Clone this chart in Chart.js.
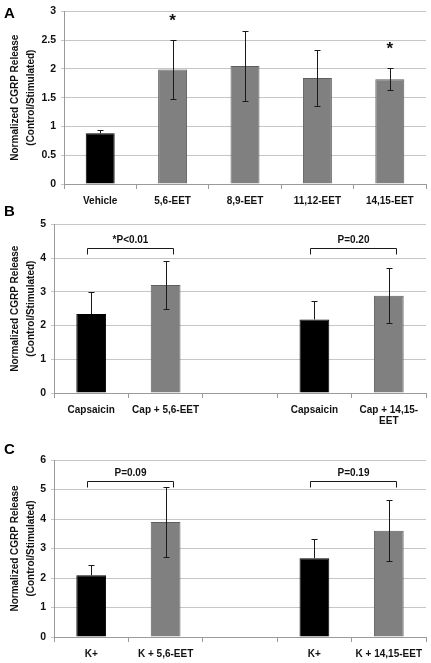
<!DOCTYPE html>
<html>
<head>
<meta charset="utf-8">
<script src="https://cdn.jsdelivr.net/npm/chart.js@4.4.1/dist/chart.umd.min.js"></script>
<style>
  html, body { margin: 0; padding: 0; background: #fff; }
  body { width: 431px; height: 663px; position: relative; overflow: hidden; font-family: 'Liberation Sans', Arial, sans-serif; }
  .panel { position: absolute; left: 0; width: 431px; }
  .letter { position: absolute; left: 4px; font-weight: bold; font-size: 15px; line-height: 17px; z-index: 2; }
</style>
</head>
<body>
<div class="letter" style="top:4px">A</div>
<div class="letter" style="top:202px">B</div>
<div class="letter" style="top:440px">C</div>
<div class="panel" style="top:0;height:212px"><canvas id="chartA"></canvas></div>
<div class="panel" style="top:213px;height:215px"><canvas id="chartB"></canvas></div>
<div class="panel" style="top:440px;height:223px"><canvas id="chartC"></canvas></div>
<script>
// Panel A - EET regioisomers vs vehicle
const labelsA = ['Vehicle', '5,6-EET', '8,9-EET', '11,12-EET', '14,15-EET'];
const meansA = [0.88, 1.99, 2.05, 1.84, 1.82];
const errsA = [0.06, 0.51, 0.60, 0.48, 0.19];
const controlIdxA = [0];
const starsA = ['', '*', '', '', '*'];

// Panel B - capsaicin stimulated
const labelsB = ['Capsaicin', 'Cap + 5,6-EET', '', 'Capsaicin', ['Cap + 14,15-', 'EET']];
const meansB = [2.34, 3.20, null, 2.18, 2.88];
const errsB = [0.64, 0.70, null, 0.55, 0.81];
const controlIdxB = [0, 3];
const pairsB = [[0, 1], [3, 4]];
const pLabelsB = ['*P<0.01', 'P=0.20'];

// Panel C - K+ stimulated
const labelsC = ['K+', 'K + 5,6-EET', '', 'K+', 'K + 14,15-EET'];
const meansC = [2.09, 3.90, null, 2.67, 3.60];
const errsC = [0.35, 1.20, null, 0.66, 1.03];
const controlIdxC = [0, 3];
const pairsC = [[0, 1], [3, 4]];
const pLabelsC = ['P=0.09', 'P=0.19'];

const FONT = "'Liberation Sans', Arial, sans-serif";
const black = '#000000';
const grey = '#808080';

// error bars, stars and comparison brackets
const annotate = {
  id: 'annotate',
  afterDatasetsDraw(chart, args, opts) {
    const { ctx } = chart;
    const y = chart.scales.y;
    const bars = chart.getDatasetMeta(0).data;
    ctx.save();
    ctx.strokeStyle = '#1a1a1a';
    ctx.fillStyle = '#111';
    ctx.lineWidth = 1;
    opts.means.forEach((m, i) => {
      if (m == null) return;
      const x = Math.round(bars[i].x) + 0.5;
      const top = Math.round(y.getPixelForValue(m + opts.errs[i])) + 0.5;
      const bot = Math.round(y.getPixelForValue(m - opts.errs[i])) + 0.5;
      ctx.beginPath();
      if (opts.controls.includes(i)) {
        // lower half disappears into the black bar
        ctx.moveTo(x, top); ctx.lineTo(x, y.getPixelForValue(m));
        ctx.moveTo(x - 3, top); ctx.lineTo(x + 3, top);
      } else {
        ctx.moveTo(x, top); ctx.lineTo(x, bot);
        ctx.moveTo(x - 3, top); ctx.lineTo(x + 3, top);
        ctx.moveTo(x - 3, bot); ctx.lineTo(x + 3, bot);
      }
      ctx.stroke();
      if (opts.stars && opts.stars[i]) {
        ctx.font = 'bold 17px ' + FONT;
        ctx.textAlign = 'center';
        ctx.textBaseline = 'middle';
        ctx.fillText(opts.stars[i], bars[i].x, top - 19);
      }
    });
    (opts.pairs || []).forEach(([a, b], k) => {
      const x1 = Math.round(bars[a].x) - 3.5;
      const x2 = Math.round(bars[b].x) + 7.5;
      const yb = Math.round(y.getPixelForValue(opts.level)) + 0.5;
      ctx.beginPath();
      ctx.moveTo(x1, yb + 6); ctx.lineTo(x1, yb); ctx.lineTo(x2, yb); ctx.lineTo(x2, yb + 6);
      ctx.stroke();
      ctx.font = 'bold 10px ' + FONT;
      ctx.textAlign = 'center';
      ctx.textBaseline = 'middle';
      ctx.fillText(opts.pLabels[k], (x1 + x2) / 2, yb - 8);
    });
    ctx.restore();
  }
};

function makeChart(id, labels, means, errs, controls, cfg) {
  const colors = labels.map((l, i) => (controls.includes(i) ? black : grey));
  const borders = labels.map((l, i) => (controls.includes(i) ? black : '#5e5e5e'));
  return new Chart(document.getElementById(id), {
    type: 'bar',
    data: {
      labels: labels,
      datasets: [{
        data: means,
        backgroundColor: colors,
        borderColor: borders,
        borderWidth: 1,
        barPercentage: 0.4,
        categoryPercentage: 1
      }]
    },
    options: {
      responsive: true,
      maintainAspectRatio: false,
      animation: false,
      layout: { padding: { top: cfg.padTop, right: 5, left: 0, bottom: 0 } },
      plugins: {
        legend: { display: false },
        tooltip: { enabled: false },
        annotate: {
          means: means,
          errs: errs,
          controls: controls,
          stars: cfg.stars,
          pairs: cfg.pairs,
          pLabels: cfg.pLabels,
          level: cfg.level
        }
      },
      scales: {
        x: {
          grid: { display: true, drawOnChartArea: false, tickLength: 5, color: '#9a9a9a' },
          border: { color: '#9a9a9a' },
          ticks: {
            color: '#111',
            padding: 7,
            maxRotation: 0,
            autoSkip: false,
            font: { family: FONT, size: 10, weight: 'bold', lineHeight: 1.1 }
          },
          afterFit: s => { s.height = cfg.xHeight; }
        },
        y: {
          min: 0,
          max: cfg.max,
          grid: { color: '#c6c6c6', tickLength: 3 },
          border: { color: '#9a9a9a' },
          ticks: {
            stepSize: cfg.step,
            color: '#111',
            padding: 5,
            font: { family: FONT, size: 10.5, weight: 'bold' },
            callback: v => String(v)
          },
          title: {
            display: true,
            text: ['Normalized CGRP Release', '(Control/Stimulated)'],
            color: '#111',
            padding: { top: 7, bottom: 0 },
            font: { family: FONT, size: 10, weight: 'bold', lineHeight: 1.6 }
          },
          afterFit: s => { s.width = cfg.yWidth; }
        }
      }
    },
    plugins: [annotate]
  });
}

makeChart('chartA', labelsA, meansA, errsA, controlIdxA, {
  padTop: 8, xHeight: 28, yWidth: 64, max: 3, step: 0.5, stars: starsA
});
makeChart('chartB', labelsB, meansB, errsB, controlIdxB, {
  padTop: 10, xHeight: 35, yWidth: 54, max: 5, step: 1,
  pairs: pairsB, pLabels: pLabelsB, level: 4.29
});
makeChart('chartC', labelsC, meansC, errsC, controlIdxC, {
  padTop: 20, xHeight: 26, yWidth: 54, max: 6, step: 1,
  pairs: pairsC, pLabels: pLabelsC, level: 5.28
});
</script>
</body>
</html>
